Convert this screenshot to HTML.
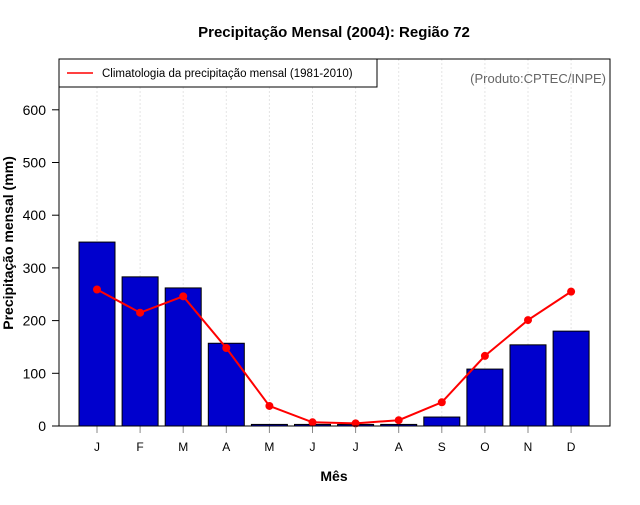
<!DOCTYPE html>
<html><head><meta charset="utf-8"><style>
body{margin:0;background:#fff;font-family:"Liberation Sans",sans-serif}
</style></head><body>
<svg id="c" width="640" height="500" xmlns="http://www.w3.org/2000/svg">
<text x="334" y="37" text-anchor="middle" font-size="15" font-weight="bold">Precipitação Mensal (2004): Região 72</text>
<g id="grid"></g><g id="bars"></g><g id="line"></g><g id="axes"></g>
<rect x="59" y="59" width="551" height="367" fill="none" stroke="#000"/>
<g>
<rect x="59" y="59" width="318" height="28" fill="#fff" stroke="#000"/>
<line x1="67" y1="73" x2="93" y2="73" stroke="red" stroke-width="1.5"/>
<text x="102" y="77" font-size="11.5">Climatologia da precipitação mensal (1981-2010)</text>
</g>
<text x="606" y="83" text-anchor="end" font-size="13" fill="#666">(Produto:CPTEC/INPE)</text>
<text x="334" y="481" text-anchor="middle" font-size="14" font-weight="bold">Mês</text>
<text transform="translate(13,243) rotate(-90)" text-anchor="middle" font-size="14" font-weight="bold">Precipitação mensal (mm)</text>
</svg>
<script>
const months=["J","F","M","A","M","J","J","A","S","O","N","D"];
const observed=[349,283,262,157,3,3,3,3,17,108,154,180];
const climatology=[259,215,246,148,38,7,5,11,45,133,201,255];
const yTicks=[0,100,200,300,400,500,600];
const NS="http://www.w3.org/2000/svg";
const x=i=>97+i*43.1;
const y=v=>426-v*0.527;
function mk(t,a,p){const e=document.createElementNS(NS,t);for(const k in a)e.setAttribute(k,a[k]);p.appendChild(e);return e;}
const g=document.getElementById('grid'),b=document.getElementById('bars'),l=document.getElementById('line'),ax=document.getElementById('axes');
months.forEach((m,i)=>{
 const gl=mk('line',{x1:x(i),x2:x(i),y1:59,y2:426,stroke:'#e4e4e4','stroke-dasharray':'2,2'},g);
 
 
 const r=mk('rect',{x:x(i)-18,y:y(observed[i]),width:36,height:426-y(observed[i]),fill:'#0000cd',stroke:'#000','stroke-width':1},b);
 
 
 const t=mk('line',{x1:x(i),x2:x(i),y1:426,y2:433,stroke:'#888'},ax);
 
 
 const tx=mk('text',{x:x(i),y:451,'text-anchor':'middle','font-size':12},ax);tx.textContent=m;
 
 
});
const pl=mk('polyline',{points:climatology.map((v,i)=>x(i)+','+y(v)).join(' '),fill:'none',stroke:'red','stroke-width':2},l);


climatology.forEach((v,i)=>{
 const c=mk('circle',{cx:x(i),cy:y(v),r:4,fill:'red'},l);
 
 
});
yTicks.forEach(v=>{
 const t=mk('line',{x1:52,x2:59,y1:y(v),y2:y(v),stroke:'#000'},ax);
 
 
 const tx=mk('text',{x:46,y:y(v)+5,'text-anchor':'end','font-size':14},ax);tx.textContent=v;
 
 
});
</script>
</body></html>
